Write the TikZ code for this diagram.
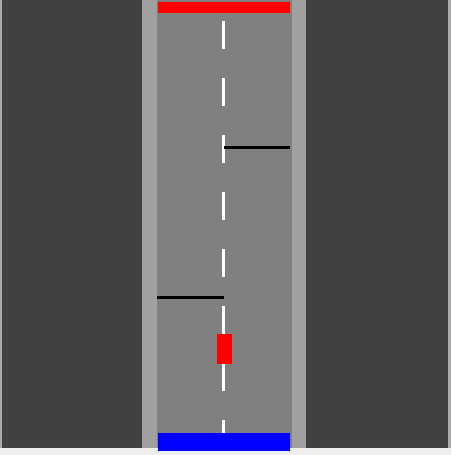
\documentclass[tikz,border=0pt]{standalone}
\usepackage{tikz}
\definecolor{asphalt}{HTML}{414141}
\definecolor{curb}{HTML}{A0A0A0}
\definecolor{lane}{HTML}{808080}
\definecolor{framegray}{HTML}{ABABAB}
\definecolor{framelight}{HTML}{EEEEEE}
\tikzset{
  shoulder/.style ={fill=curb},
  roadway/.style  ={fill=lane},
  centerdash/.style={fill=white},
  barrier/.style  ={draw=black,line width=2.5pt,line cap=butt},
  startzone/.style={fill=blue},
  goalzone/.style ={fill=red},
  agentcar/.style ={fill=red},
}

\begin{document}
\begin{tikzpicture}[x=1pt,y=-1pt]
\useasboundingbox (0,0) rectangle (451,455);
% ---- window frame and ground ----
\fill[framegray] (0,0) rectangle (451,455);
\fill[framelight] (0,448) rectangle (451,455);
\fill[asphalt] (2.3,0) rectangle (448.3,448);
% ---- road ----
\fill[shoulder] (141.7,0) rectangle (306,448);
\fill[roadway]  (156.7,0) rectangle (291.7,448);
% ---- centre line ----
\foreach \y in {20.5,77.5,...,419.5}
  \fill[centerdash] (222.3,\y) rectangle ++(3,28.5);
% ---- obstacles ----
\draw[barrier] (157.3,297.5) -- (224,297.5);
\draw[barrier] (223.7,147.7) -- (290,147.7);
% ---- goal / start zones ----
\fill[goalzone]  (158.3,1.5) rectangle (290,12.8);
\fill[startzone] (158.3,432.7) rectangle (290,450.5);
% ---- car ----
\fill[agentcar] (216.7,334) rectangle (231.5,363.8);
\end{tikzpicture}
\end{document}
